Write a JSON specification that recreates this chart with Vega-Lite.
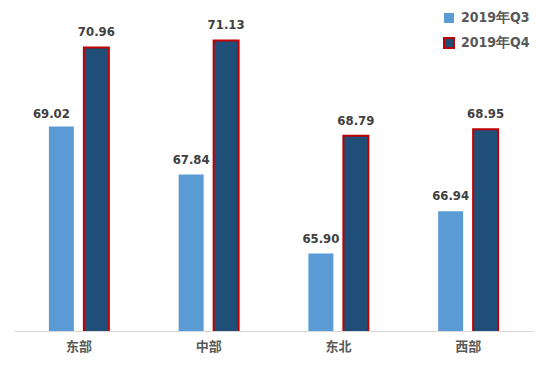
{
  "$schema": "https://vega.github.io/schema/vega-lite/v6.json",
  "autosize": "none",
  "width": 519,
  "height": 326,
  "padding": {"left": 14, "top": 5, "right": 17, "bottom": 45},
  "background": "white",
  "config": {"view": {"stroke": null}},
  "data": {
    "values": [
      {"region": "东部", "series": "2019年Q3", "value": 69.02},
      {"region": "东部", "series": "2019年Q4", "value": 70.96},
      {"region": "中部", "series": "2019年Q3", "value": 67.84},
      {"region": "中部", "series": "2019年Q4", "value": 71.13},
      {"region": "东北", "series": "2019年Q3", "value": 65.90},
      {"region": "东北", "series": "2019年Q4", "value": 68.79},
      {"region": "西部", "series": "2019年Q3", "value": 66.94},
      {"region": "西部", "series": "2019年Q4", "value": 68.95}
    ]
  },
  "encoding": {
    "x": {
      "field": "region", "type": "nominal", "sort": ["东部", "中部", "东北", "西部"],
      "scale": {"paddingInner": 0.538, "paddingOuter": 0.269},
      "axis": {
        "title": null, "labelAngle": 0, "ticks": false, "domainColor": "#D9D9D9", "domainWidth": 1,
        "labelFont": "Noto Sans CJK SC", "labelFontWeight": "bold", "labelFontSize": 13,
        "labelColor": "#595959", "labelPadding": 9
      }
    },
    "xOffset": {"field": "series", "type": "nominal", "scale": {"paddingInner": 0.286, "paddingOuter": 0}},
    "y": {"field": "value", "type": "quantitative", "scale": {"domain": [64, 72], "nice": false, "zero": false}, "axis": null}
  },
  "layer": [
    {
      "mark": {"type": "bar", "strokeWidth": 2, "clip": true},
      "encoding": {
        "color": {
          "field": "series", "type": "nominal",
          "scale": {"domain": ["2019年Q3", "2019年Q4"], "range": ["#5B9BD5", "#1F4E79"]},
          "legend": {
            "title": null, "orient": "none", "legendX": 428, "legendY": 6,
            "symbolType": "square", "symbolSize": 100, "symbolStrokeWidth": 2, "symbolOpacity": 1,
            "labelFont": "DejaVu Sans Condensed", "labelFontWeight": "bold", "labelFontSize": 14,
            "labelColor": "#595959", "labelOffset": 5, "rowPadding": 7, "padding": 0
          }
        },
        "stroke": {
          "field": "series", "type": "nominal",
          "scale": {"domain": ["2019年Q3", "2019年Q4"], "range": ["rgba(0,0,0,0)", "#C00000"]}
        }
      }
    },
    {
      "transform": [{"filter": "!(datum.region == '东部' && datum.series == '2019年Q3')"}],
      "mark": {"type": "text", "baseline": "alphabetic", "dy": -11, "font": "DejaVu Sans Condensed", "fontWeight": "bold", "fontSize": 13, "color": "#404040"},
      "encoding": {"text": {"field": "value", "type": "quantitative", "format": ".2f"}}
    },
    {
      "transform": [{"filter": "datum.region == '东部' && datum.series == '2019年Q3'"}],
      "mark": {"type": "text", "baseline": "alphabetic", "dy": -8, "dx": -10, "font": "DejaVu Sans Condensed", "fontWeight": "bold", "fontSize": 13, "color": "#404040"},
      "encoding": {"text": {"field": "value", "type": "quantitative", "format": ".2f"}}
    }
  ]
}
